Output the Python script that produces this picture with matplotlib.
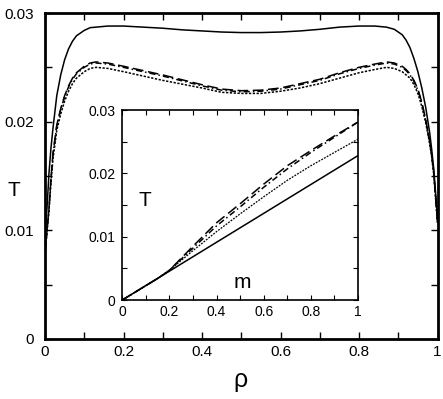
import matplotlib
matplotlib.use("Agg")
import matplotlib.pyplot as plt
from matplotlib.ticker import MultipleLocator, FuncFormatter

plt.rcParams['font.family'] = ['Liberation Sans', 'DejaVu Sans']

# ---- main panel data: T vs rho ----
rho = [0, 0.005, 0.01, 0.015, 0.02, 0.03, 0.04, 0.05, 0.06, 0.07, 0.08, 0.1, 0.115,
       0.13, 0.16, 0.2, 0.25, 0.3, 0.35, 0.4, 0.45, 0.5, 0.55, 0.6, 0.65, 0.7, 0.75,
       0.8, 0.84, 0.87, 0.89, 0.91, 0.92, 0.93, 0.94, 0.95, 0.96, 0.97, 0.98, 0.985,
       0.99, 0.995, 1.0]
T_solid = [0.0098, 0.0120, 0.0152, 0.0175, 0.0193, 0.0224, 0.0243, 0.0257, 0.0267,
           0.0274, 0.0279, 0.0284, 0.02865, 0.0287, 0.0288, 0.0288, 0.0287, 0.0286,
           0.02845, 0.02835, 0.02825, 0.0282, 0.0282, 0.02825, 0.02835, 0.0285, 0.0287,
           0.0288, 0.0288, 0.0287, 0.0285, 0.0280, 0.0275, 0.0268, 0.0258, 0.0246,
           0.0231, 0.0213, 0.0190, 0.0175, 0.0158, 0.0135, 0.0112]
T_dashed = [0.0080, 0.0100, 0.0120, 0.0147, 0.0170, 0.0197, 0.0212, 0.0224, 0.0233,
            0.0240, 0.0245, 0.0251, 0.0254, 0.0255, 0.0254, 0.0251, 0.0247, 0.0243,
            0.02385, 0.0234, 0.0230, 0.02285, 0.0229, 0.0231, 0.0235, 0.0239, 0.0245,
            0.0250, 0.0253, 0.0255, 0.0254, 0.0251, 0.0248, 0.0244, 0.0238, 0.0230,
            0.0218, 0.0202, 0.0182, 0.0170, 0.0155, 0.0132, 0.0108]
T_dashdot = [0.0079, 0.0099, 0.0119, 0.0146, 0.0169, 0.0196, 0.0211, 0.0223, 0.0232,
             0.0239, 0.0244, 0.0250, 0.0253, 0.0254, 0.0253, 0.0250, 0.0246, 0.0242,
             0.02375, 0.0233, 0.0229, 0.02275, 0.0228, 0.0230, 0.0234, 0.0238, 0.0244,
             0.0249, 0.0252, 0.0254, 0.0253, 0.0250, 0.0247, 0.0243, 0.0237, 0.0229,
             0.0217, 0.0201, 0.0181, 0.0169, 0.0154, 0.0131, 0.0107]
T_dotted = [0.0078, 0.0098, 0.0117, 0.0143, 0.0165, 0.0192, 0.0207, 0.0219, 0.0228,
            0.0235, 0.0240, 0.0246, 0.0249, 0.0250, 0.0249, 0.0246, 0.0242, 0.0238,
            0.02345, 0.0231, 0.0227, 0.0226, 0.0226, 0.0228, 0.0231, 0.0235, 0.0240,
            0.0245, 0.0248, 0.0250, 0.0249, 0.0246, 0.0243, 0.0240, 0.0234, 0.0226,
            0.0214, 0.0199, 0.0180, 0.0168, 0.0153, 0.0130, 0.0106]

# ---- inset data: T vs m ----
m = [0, 0.1, 0.15, 0.2, 0.3, 0.4, 0.5, 0.6, 0.7, 0.8, 0.9, 1.0]
Ti_solid = [0, 0.00228, 0.00342, 0.00456, 0.00684, 0.00912, 0.0114, 0.01368,
            0.01596, 0.01824, 0.02052, 0.0228]
Ti_dashed = [0, 0.00228, 0.0034, 0.0047, 0.0085, 0.0122, 0.0152, 0.0183, 0.0212,
             0.0236, 0.0259, 0.0281]
Ti_dashdot = [0, 0.00228, 0.0034, 0.0047, 0.0082, 0.0117, 0.0147, 0.0178, 0.0207,
              0.0233, 0.0257, 0.0281]
Ti_dotted = [0, 0.00228, 0.0034, 0.0047, 0.0078, 0.0108, 0.0136, 0.0163, 0.0189,
             0.0212, 0.0233, 0.0254]


def fmt(v, pos):
    if abs(v) < 1e-12:
        return "0"
    return ("%.2f" % v).rstrip("0").rstrip(".")


fig = plt.figure(figsize=(4.43, 3.99), dpi=100)
ax = fig.add_axes([0.1016, 0.1504, 0.8860, 0.8170])

lw = 1.1
ax.plot(rho, T_solid, color="black", lw=lw, ls="-")
ax.plot(rho, T_dashed, color="black", lw=lw, ls=(0, (7, 3)))
ax.plot(rho, T_dashdot, color="black", lw=lw, ls=(0, (4, 2, 1, 2)))
ax.plot(rho, T_dotted, color="black", lw=lw, ls=(0, (1.5, 1)))

ax.set_xlim(0, 1)
ax.set_ylim(0, 0.03)
ax.xaxis.set_major_locator(MultipleLocator(0.2))
ax.xaxis.set_minor_locator(MultipleLocator(0.1))
ax.yaxis.set_major_locator(MultipleLocator(0.01))
ax.yaxis.set_minor_locator(MultipleLocator(0.005))
ax.xaxis.set_major_formatter(FuncFormatter(fmt))
ax.yaxis.set_major_formatter(FuncFormatter(fmt))
ax.tick_params(which="both", direction="in", top=True, right=True,
               length=5, width=1, labelsize=11)
ax.tick_params(axis="x", pad=4)
ax.tick_params(axis="y", pad=8)
for sp in ax.spines.values():
    sp.set_linewidth(2)

fig.text(8 / 443, 1 - 190 / 399, "T", fontsize=15, ha="left", va="center")
fig.text(240 / 443, 1 - 380 / 399, "ρ", fontsize=18, ha="center", va="center")

# ---- inset ----
axi = fig.add_axes([0.2761, 0.2481, 0.5320, 0.4762])
axi.plot(m, Ti_solid, color="black", lw=lw, ls="-")
axi.plot(m, Ti_dashed, color="black", lw=lw, ls=(0, (7, 3)))
axi.plot(m, Ti_dashdot, color="black", lw=lw, ls=(0, (4, 2, 1, 2)))
axi.plot(m, Ti_dotted, color="black", lw=0.9, ls=(0, (1.5, 1)))
axi.set_xlim(0, 1)
axi.set_ylim(0, 0.03)
axi.xaxis.set_major_locator(MultipleLocator(0.2))
axi.xaxis.set_minor_locator(MultipleLocator(0.1))
axi.yaxis.set_major_locator(MultipleLocator(0.01))
axi.yaxis.set_minor_locator(MultipleLocator(0.005))
axi.xaxis.set_major_formatter(FuncFormatter(fmt))
axi.yaxis.set_major_formatter(FuncFormatter(fmt))
axi.tick_params(which="both", direction="in", top=True, right=True,
                length=3.5, width=0.8, labelsize=10)
axi.tick_params(axis="y", pad=5)
for sp in axi.spines.values():
    sp.set_linewidth(1.2)

fig.text(145 / 443, 1 - 200 / 399, "T", fontsize=15, ha="center", va="center")
fig.text(242 / 443, 1 - 283 / 399, "m", fontsize=15, ha="center", va="center")

fig.savefig("out.png", dpi=100)
